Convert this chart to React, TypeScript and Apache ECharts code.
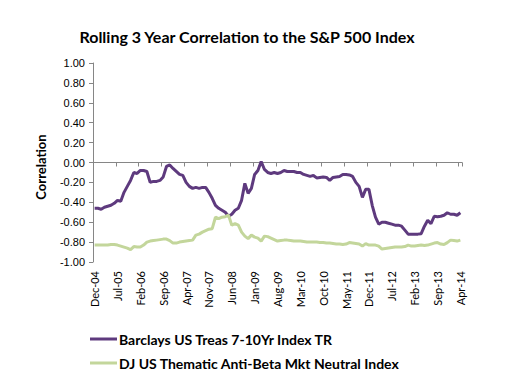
import React, { useEffect, useRef } from "react";
import * as echarts from "echarts";

const MONTHS = ["Jan", "Feb", "Mar", "Apr", "May", "Jun", "Jul", "Aug", "Sep", "Oct", "Nov", "Dec"];
const START_YEAR = 2004;
const START_MONTH = 11; // Dec
const N_POINTS = 113;
const categories: string[] = [];
for (let k = 0; k < N_POINTS; k++) {
  const m = (START_MONTH + k) % 12;
  const y = START_YEAR + Math.floor((START_MONTH + k) / 12);
  categories.push(`${MONTHS[m]}-${String(y % 100).padStart(2, "0")}`);
}

const seriesNames = [
  "Barclays US Treas 7-10Yr Index TR",
  "DJ US Thematic Anti-Beta Mkt Neutral Index",
];

const barclays = [
  -0.46, -0.46, -0.47, -0.45, -0.44, -0.43, -0.41, -0.38, -0.39, -0.30,
  -0.24, -0.18, -0.10, -0.11, -0.08, -0.08, -0.09, -0.20, -0.19, -0.19,
  -0.18, -0.145, -0.04, -0.025, -0.06, -0.09, -0.12, -0.13, -0.20, -0.24,
  -0.26, -0.25, -0.26, -0.25, -0.25, -0.30, -0.36, -0.43, -0.46, -0.48,
  -0.50, -0.54, -0.52, -0.48, -0.46, -0.38, -0.21, -0.31, -0.26, -0.12,
  -0.08, 0.01, -0.07, -0.10, -0.11, -0.10, -0.11, -0.10, -0.08, -0.09,
  -0.09, -0.09, -0.10, -0.10, -0.12, -0.13, -0.14, -0.13, -0.155, -0.15,
  -0.145, -0.15, -0.18, -0.15, -0.145, -0.14, -0.12, -0.12, -0.125, -0.14,
  -0.20, -0.24, -0.35, -0.27, -0.27, -0.43, -0.55, -0.62, -0.60, -0.60,
  -0.61, -0.62, -0.63, -0.63, -0.64, -0.68, -0.72, -0.72, -0.72, -0.72,
  -0.715, -0.64, -0.58, -0.615, -0.54, -0.545, -0.54, -0.53, -0.505, -0.52,
  -0.52, -0.53, -0.505,
];

const antiBeta = [
  -0.83, -0.83, -0.83, -0.83, -0.83, -0.825, -0.825, -0.83, -0.84, -0.85,
  -0.86, -0.875, -0.845, -0.85, -0.85, -0.83, -0.80, -0.79, -0.785, -0.78,
  -0.775, -0.77, -0.77, -0.785, -0.81, -0.81, -0.80, -0.795, -0.79, -0.785,
  -0.78, -0.73, -0.72, -0.70, -0.685, -0.67, -0.665, -0.55, -0.565, -0.55,
  -0.545, -0.53, -0.63, -0.615, -0.63, -0.70, -0.74, -0.765, -0.73, -0.75,
  -0.76, -0.79, -0.74, -0.745, -0.76, -0.775, -0.79, -0.785, -0.78, -0.78,
  -0.785, -0.79, -0.79, -0.79, -0.795, -0.80, -0.80, -0.80, -0.80, -0.805,
  -0.805, -0.81, -0.81, -0.815, -0.82, -0.82, -0.825, -0.82, -0.805, -0.81,
  -0.815, -0.82, -0.84, -0.815, -0.83, -0.83, -0.83, -0.84, -0.87, -0.865,
  -0.86, -0.855, -0.85, -0.85, -0.85, -0.845, -0.83, -0.84, -0.84, -0.835,
  -0.83, -0.835, -0.83, -0.82, -0.81, -0.805, -0.82, -0.825, -0.805, -0.78,
  -0.785, -0.79, -0.78,
];

const TITLE = "Rolling 3 Year Correlation to the S&P 500 Index";
const Y_NAME = "Correlation";

export default function App() {
  const ref = useRef<HTMLDivElement>(null);
  useEffect(() => {
    if (!ref.current) return;
    const chart = echarts.init(ref.current, undefined, { renderer: "svg" });
    const axisGrey = "#868686";
    const calibri = "Lato, 'Noto Sans', sans-serif";
    chart.setOption({
      animation: false,
      backgroundColor: "#ffffff",
      grid: { left: 93, right: 55, top: 63, bottom: 115, containLabel: false },
      graphic: [
        {
          type: "text",
          x: 247,
          y: 36,
          style: {
            text: TITLE,
            font: `bold 16px ${calibri}`,
            fill: "#000",
            align: "center",
            verticalAlign: "middle",
          },
        },
        {
          type: "text",
          x: 41,
          y: 167,
          rotation: Math.PI / 2,
          style: {
            text: Y_NAME,
            font: `bold 13px ${calibri}`,
            fill: "#000",
            align: "center",
            verticalAlign: "middle",
          },
        },
      ],
      legend: {
        orient: "vertical",
        left: 85,
        top: 327,
        itemWidth: 27,
        itemHeight: 3,
        itemGap: 10,
        icon: "rect",
        textStyle: {
          fontFamily: calibri,
          fontWeight: "bold",
          fontSize: 14,
          color: "#000",
          padding: [0, 0, 0, -3],
        },
        data: seriesNames,
      },
      xAxis: [
        {
          type: "category",
          data: categories,
          boundaryGap: true,
          axisLine: { onZero: true, lineStyle: { color: axisGrey, width: 1 } },
          axisTick: { show: true, interval: 6, length: 4, lineStyle: { color: axisGrey } },
          axisLabel: { show: false },
          splitLine: { show: false },
        },
        {
          type: "category",
          data: categories,
          boundaryGap: true,
          position: "bottom",
          axisLine: { show: false, onZero: false },
          axisTick: { show: false },
          axisLabel: {
            show: true,
            interval: 6,
            rotate: 90,
            margin: 9,
            fontSize: 11,
            fontFamily: calibri,
            color: "#000",
          },
          splitLine: { show: false },
        },
      ],
      yAxis: {
        type: "value",
        min: -1,
        max: 1,
        interval: 0.2,
        axisLine: { show: true, lineStyle: { color: axisGrey, width: 1 } },
        axisTick: { show: true, length: 4, lineStyle: { color: axisGrey } },
        axisLabel: {
          formatter: (v: number) => v.toFixed(2),
          fontSize: 11,
          fontFamily: "'Liberation Sans', Arial, sans-serif",
          color: "#000",
          margin: 8,
        },
        splitLine: { show: false },
      },
      series: [
        {
          name: seriesNames[0],
          type: "line",
          xAxisIndex: 0,
          data: barclays,
          symbol: "none",
          lineStyle: { color: "#5E3A7E", width: 3 },
          itemStyle: { color: "#5E3A7E" },
        },
        {
          name: seriesNames[1],
          type: "line",
          xAxisIndex: 0,
          data: antiBeta,
          symbol: "none",
          lineStyle: { color: "#C3D69B", width: 3 },
          itemStyle: { color: "#C3D69B" },
        },
      ],
    });
    return () => chart.dispose();
  }, []);
  return (
    <div
      ref={ref}
      style={{ position: "fixed", left: 0, top: 0, width: 517, height: 377, background: "#fff" }}
    />
  );
}
